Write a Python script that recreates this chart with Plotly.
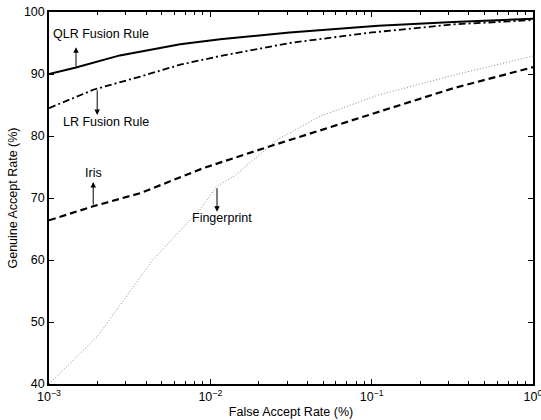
import plotly.graph_objects as go
import math

# False accept rate (%) and genuine accept rate (%) values
qlr_far = [0.001, 0.00145, 0.00275, 0.0065, 0.0115, 0.031, 0.11, 0.32, 1.0]
qlr_gar = [90.0, 91.0, 93.0, 94.8, 95.6, 96.7, 97.8, 98.4, 98.9]

lr_far = [0.001, 0.0019, 0.0037, 0.0065, 0.0115, 0.031, 0.1, 0.32, 1.0]
lr_gar = [84.5, 87.5, 89.6, 91.5, 92.9, 95.0, 96.7, 98.0, 98.7]

iris_far = [0.001, 0.0019, 0.0037, 0.009, 0.0225, 0.1, 0.32, 1.0]
iris_gar = [66.4, 68.7, 70.8, 74.8, 78.2, 83.6, 87.7, 91.1]

fp_far = [0.001, 0.002, 0.0044, 0.0086, 0.011, 0.014, 0.026, 0.048, 0.11, 0.32, 1.0]
fp_gar = [40.0, 47.7, 60.0, 68.1, 71.9, 73.5, 79.4, 83.2, 86.6, 89.8, 92.9]

x_tickvals = [0.001, 0.01, 0.1, 1]
x_ticktext = ["10<sup>−3</sup>", "10<sup>−2</sup>", "10<sup>−1</sup>", "10<sup>0</sup>"]
y_tickvals = [40, 50, 60, 70, 80, 90, 100]

# labels: (text, text_far, text_gar, arrow_far, tail_gar, head_gar)
labels = [
    ("QLR Fusion Rule", 0.0021, 96.5, 0.00147, 91.0, 94.3),
    ("LR Fusion Rule", 0.00227, 82.3, 0.00199, 87.6, 83.4),
    ("Iris", 0.00188, 74.1, 0.00188, 68.7, 72.6),
    ("Fingerprint", 0.0118, 66.8, 0.0110, 71.8, 67.8),
]

FONT = "Liberation Sans, Arial, Helvetica, sans-serif"
FS = 12.5

fig = go.Figure()
fig.add_trace(go.Scatter(x=fp_far, y=fp_gar, mode="lines",
                         line=dict(color="#8a8a8a", width=1, dash="1px,2px")))
fig.add_trace(go.Scatter(x=iris_far, y=iris_gar, mode="lines",
                         line=dict(color="black", width=2.2, dash="7px,4px")))
fig.add_trace(go.Scatter(x=lr_far, y=lr_gar, mode="lines",
                         line=dict(color="black", width=1.8, dash="7px,3px,2px,3px")))
fig.add_trace(go.Scatter(x=qlr_far, y=qlr_gar, mode="lines",
                         line=dict(color="black", width=2)))

annotations = []
for text, tx, ty, axf, tail, head in labels:
    annotations.append(dict(x=math.log10(tx), y=ty, xref="x", yref="y", text=text,
                            showarrow=False, font=dict(size=FS, color="black", family=FONT)))
    annotations.append(dict(x=math.log10(axf), y=head, xref="x", yref="y",
                            ax=math.log10(axf), ay=tail, axref="x", ayref="y",
                            text="", showarrow=True, arrowhead=2, arrowsize=1.1,
                            arrowwidth=1, arrowcolor="black"))

fig.update_layout(
    width=541, height=420,
    margin=dict(l=49, r=8, t=12, b=36),
    plot_bgcolor="white", paper_bgcolor="white",
    showlegend=False,
    font=dict(family=FONT, size=FS, color="black"),
    annotations=annotations,
)
fig.update_xaxes(
    type="log", range=[-3, 0], automargin=False,
    tickvals=x_tickvals, ticktext=x_ticktext,
    ticks="inside", ticklen=5, tickcolor="black", tickwidth=1,
    ticklabeloverflow="allow",
    minor=dict(ticks="inside", ticklen=3, tickcolor="black",
               tickvals=[m * 10 ** e for e in (-3, -2, -1) for m in range(2, 10)]),
    showline=True, linecolor="black", linewidth=1.5, mirror="allticks",
    showgrid=False, zeroline=False,
    tickfont=dict(size=FS),
    title=dict(text="False Accept Rate (%)", font=dict(size=FS), standoff=4),
)
fig.update_yaxes(
    range=[40, 100], automargin=False, tickvals=y_tickvals,
    ticks="inside", ticklen=5, tickcolor="black", tickwidth=1,
    ticklabeloverflow="allow",
    showline=True, linecolor="black", linewidth=1.5, mirror="allticks",
    showgrid=False, zeroline=False,
    tickfont=dict(size=FS),
    title=dict(text="Genuine Accept Rate (%)", font=dict(size=FS), standoff=4),
)

fig.write_html("out.html", config={"displayModeBar": False},
               post_script="document.body.style.margin='0';document.body.style.overflow='hidden';")
